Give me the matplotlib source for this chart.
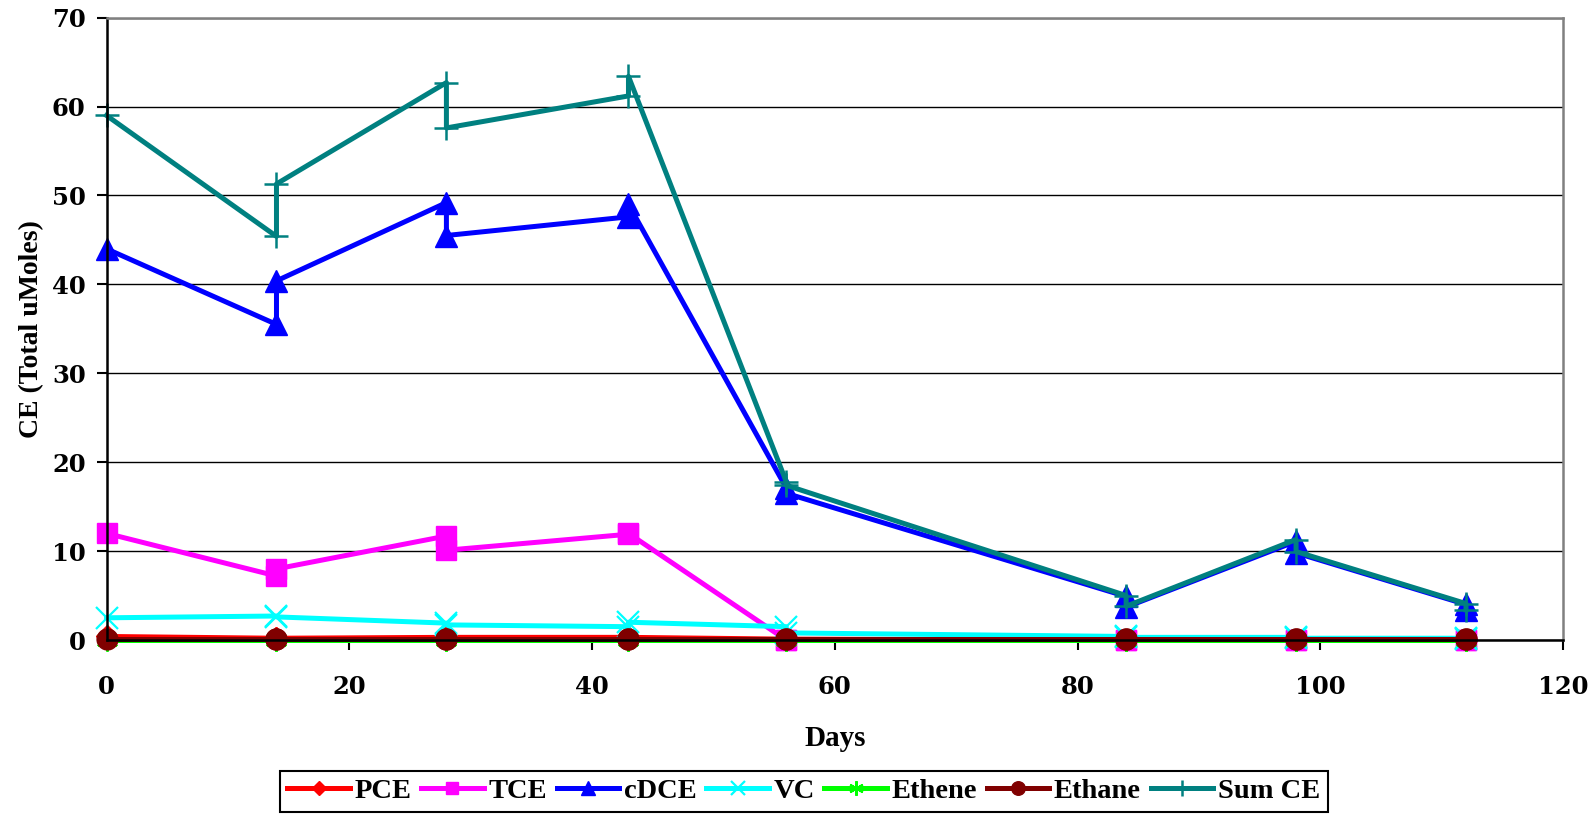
import matplotlib
matplotlib.use('Agg')
import matplotlib.pyplot as plt

plt.rcParams['font.family'] = ['Liberation Serif', 'DejaVu Serif']
plt.rcParams['font.weight'] = 'bold'

# sampling days (replicate samples share the same day)
days = [0, 14, 14, 28, 28, 43, 43, 56, 56, 84, 84, 98, 98, 112, 112]

pce = [0.4, 0.2, 0.2, 0.3, 0.3, 0.3, 0.3, 0.1, 0.1, 0.0, 0.0, 0.0, 0.0, 0.0, 0.0]
tce = [12.0, 7.2, 8.0, 11.7, 10.1, 11.9, 12.0, 0.0, 0.0, 0.0, 0.0, 0.0, 0.0, 0.0, 0.0]
cdce = [44.0, 35.5, 40.4, 49.2, 45.5, 47.6, 49.0, 17.1, 16.5, 4.9, 3.7, 11.1, 9.8, 4.0, 3.4]
vc = [2.5, 2.7, 2.6, 1.9, 1.7, 1.5, 2.0, 1.5, 0.8, 0.4, 0.3, 0.3, 0.2, 0.2, 0.1]
ethene = [0.0] * 15
ethane = [0.1, 0.1, 0.1, 0.1, 0.1, 0.1, 0.1, 0.1, 0.1, 0.1, 0.1, 0.1, 0.1, 0.1, 0.1]
sum_ce = [59.0, 45.4, 51.3, 62.7, 57.6, 61.2, 63.4, 17.8, 17.4, 5.0, 3.8, 11.3, 9.95, 4.1, 3.4]

series = [
    ('PCE', pce, '#ff0000', dict(marker='D', ms=11)),
    ('TCE', tce, '#ff00ff', dict(marker='s', ms=14)),
    ('cDCE', cdce, '#0000ff', dict(marker='^', ms=16)),
    ('VC', vc, '#00ffff', dict(marker='x', ms=16, mew=1.6)),
    ('Ethene', ethene, '#00ff00', dict(marker=(6, 2, 0), ms=16, mew=1.6)),
    ('Ethane', ethane, '#800000', dict(marker='o', ms=15)),
    ('Sum CE', sum_ce, '#008080', dict(marker='+', ms=17, mew=1.8)),
]

fig = plt.figure(figsize=(15.95, 8.15), dpi=100)
ax = fig.add_axes([0.0668, 0.2147, 0.9132, 0.7636])

for name, vals, col, mk in series:
    ax.plot(days, vals, color=col, lw=3.6, mfc=col, mec=col, label=name,
            clip_on=False, **mk)

ax.set_xlim(0, 120)
ax.set_ylim(0, 70)
ax.set_xticks(range(0, 121, 20))
ax.set_yticks(range(0, 71, 10))
ax.yaxis.grid(True, color='black', lw=1.0)
ax.set_axisbelow(True)

for s in ['left', 'bottom']:
    ax.spines[s].set_color('black')
    ax.spines[s].set_linewidth(1.8)
for s in ['top', 'right']:
    ax.spines[s].set_color('#808080')
    ax.spines[s].set_linewidth(1.8)

# wide heavy digits on the tick labels
ax.tick_params(axis='both', direction='out', length=7, width=1.5, labelsize=17.5)
ax.tick_params(axis='x', pad=18)
ax.tick_params(axis='y', pad=8)
for lab in ax.get_xticklabels() + ax.get_yticklabels():
    lab.set_fontfamily('DejaVu Serif')
    lab.set_fontweight('bold')

ax.set_xlabel('Days', fontsize=21, fontweight='bold')
ax.xaxis.set_label_coords(0.5, -0.137)
ax.set_ylabel('CE (Total uMoles)', fontsize=20, fontweight='bold')
ax.yaxis.set_label_coords(-0.0426, 0.5)

leg = fig.legend(loc='upper center', bbox_to_anchor=(0.5038, 0.0545), ncol=7,
                 fontsize=20.5, frameon=True, fancybox=False, framealpha=1,
                 edgecolor='black', handlelength=2.2, handletextpad=0.15,
                 columnspacing=0.35, borderpad=0.27, borderaxespad=0,
                 markerscale=0.65)
leg.get_frame().set_linewidth(1.5)
for t in leg.get_texts():
    t.set_fontweight('bold')

fig.savefig('out.png', dpi=100)
